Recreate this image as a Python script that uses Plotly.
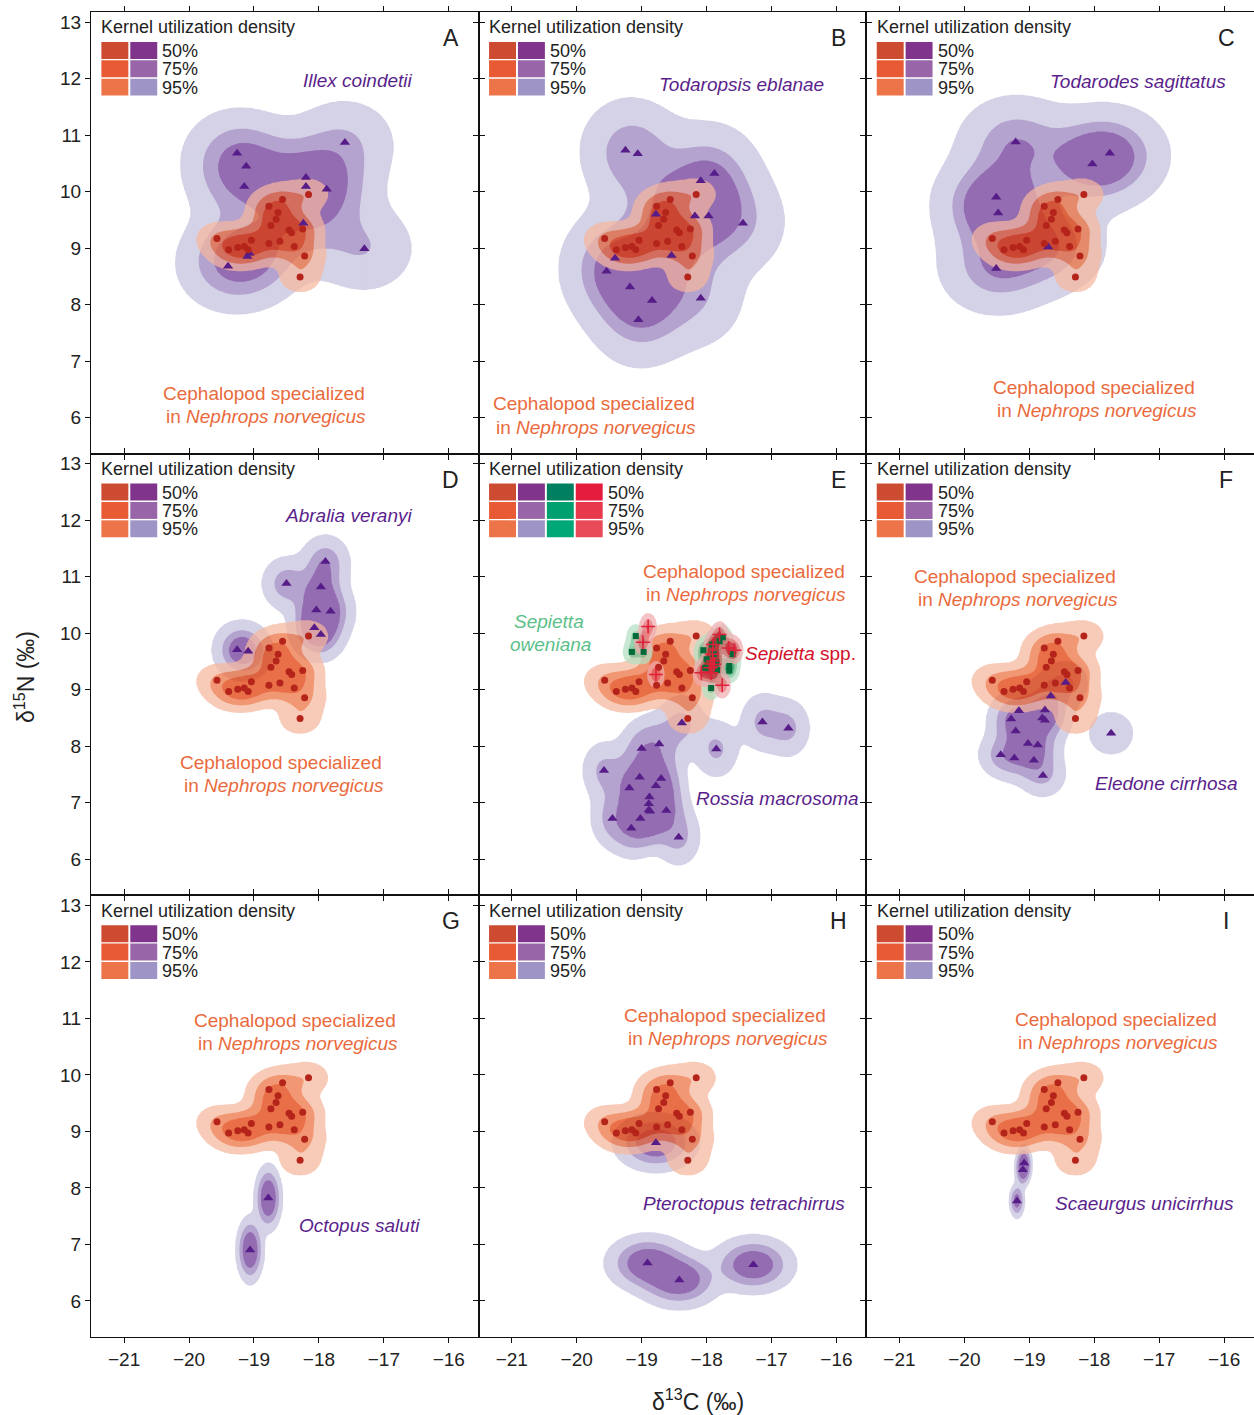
import numpy as np
import plotly.graph_objects as go
from plotly.subplots import make_subplots

# ---------------- data ----------------
neph_x = [-19.57, -19.39, -19.25, -19.15, -19.09, -19.04, -18.77, -18.60, -18.74, -18.66,
          -18.63, -18.77, -18.56, -18.46, -18.42, -18.25, -18.38, -18.22, -18.16, -18.29]
neph_y = [9.17, 8.97, 9.01, 9.03, 8.97, 9.14, 9.08, 9.12, 9.40, 9.51,
          9.63, 9.74, 9.86, 9.32, 9.27, 9.34, 9.03, 8.86, 9.95, 8.49]

illex_x = [-19.26, -19.12, -19.15, -18.20, -18.20, -17.88, -17.60, -18.24, -19.07, -19.10, -19.40, -17.30]
illex_y = [10.68, 10.45, 10.09, 10.25, 10.09, 10.04, 10.87, 9.44, 8.91, 8.85, 8.68, 8.99]

todaropsis_x = [-19.25, -19.06, -17.88, -18.09, -17.44, -18.78, -18.18, -17.97, -19.41, -19.54,
                -18.54, -19.18, -18.84, -18.09, -19.05]
todaropsis_y = [10.73, 10.67, 10.32, 10.19, 9.44, 9.60, 9.57, 9.57, 8.82, 8.59,
                8.87, 8.31, 8.07, 8.11, 7.73]

todarodes_x = [-19.21, -17.76, -18.03, -19.51, -19.48, -18.71, -19.51]
todarodes_y = [10.88, 10.68, 10.49, 9.90, 9.62, 9.02, 8.64]

abralia_x = [-17.90, -18.50, -17.97, -18.04, -17.82, -18.07, -17.97, -19.26, -19.09]
abralia_y = [11.27, 10.88, 10.82, 10.41, 10.39, 10.10, 9.98, 9.71, 9.68]

rossia_x = [-18.38, -17.14, -16.74, -17.85, -19.00, -18.73, -19.58, -19.03, -18.70, -19.19,
            -18.78, -18.88, -18.89, -18.89, -18.87, -18.62, -19.45, -19.02, -19.16, -18.43]
rossia_y = [8.41, 8.43, 8.32, 7.95, 7.96, 8.04, 7.57, 7.45, 7.43, 7.26,
            7.30, 7.10, 6.98, 6.87, 6.85, 6.86, 6.72, 6.72, 6.55, 6.39]

oweniana_x = [-19.09, -19.15, -18.97, -18.05, -17.92, -17.80, -17.75, -17.89, -18.00, -17.85,
              -18.02, -17.84, -17.65, -17.65, -17.60, -17.93]
oweniana_y = [9.95, 9.67, 9.67, 9.70, 9.80, 9.86, 9.93, 9.63, 9.54, 9.48,
              9.39, 9.35, 9.42, 9.34, 9.63, 9.03]

sepietta_x = [-18.90, -18.98, -18.78, -17.80, -17.66, -17.57, -17.91, -17.90, -17.94, -18.08,
              -17.93, -17.76, -17.90, -17.88]
sepietta_y = [10.12, 9.84, 9.27, 9.98, 9.74, 9.70, 9.63, 9.51, 9.39, 9.30,
              9.30, 9.08, 9.80, 9.45]

eledone_x = [-18.44, -18.67, -19.16, -18.76, -19.28, -18.80, -18.76, -19.21, -19.02, -18.87,
             -19.44, -19.23, -18.93, -18.79, -17.74]
eledone_y = [9.13, 8.89, 8.63, 8.64, 8.48, 8.50, 8.46, 8.27, 8.05, 8.02,
             7.85, 7.79, 7.75, 7.48, 8.23]

octopus_x = [-18.78, -19.06]
octopus_y = [7.82, 6.90]

pteroctopus_x = [-18.78, -18.91, -18.42, -17.28]
pteroctopus_y = [8.80, 6.67, 6.37, 6.64]

scaeurgus_x = [-19.08, -19.10, -19.19]
scaeurgus_y = [8.44, 8.32, 7.77]

x_ticks = [-21, -20, -19, -18, -17, -16]
y_ticks = [6, 7, 8, 9, 10, 11, 12, 13]
levels_pct = ["50%", "75%", "95%"]

# ---------------- styles ----------------
X_RANGE = [-21.51, -15.54]
Y_RANGE = [5.36, 13.18]
FONT = "Liberation Sans, Arial, sans-serif"

def comp(target, op):
    c = [(t - (1 - op) * 255) / op for t in target]
    c = [int(max(0, min(255, round(v)))) for v in c]
    return "rgb(%d,%d,%d)" % tuple(c)

PURPLE_OP = 0.75
RED_OP = 0.72
purple_fill = [comp(t, PURPLE_OP) for t in [(148, 108, 178), (180, 162, 207), (213, 210, 231)]]
red_fill = [comp(t, RED_OP) for t in [(233, 112, 62), (241, 152, 115), (248, 204, 185)]]
green_fill = [comp(t, RED_OP) for t in [(90, 180, 130), (150, 210, 175), (200, 232, 212)]]
pink_fill = [comp(t, RED_OP) for t in [(222, 80, 95), (236, 145, 150), (244, 195, 198)]]

leg_red = ["#cd4b30", "#e85a34", "#ec7448"]
leg_purple = ["#80348c", "#9866a8", "#9e94c6"]
leg_green = ["#008060", "#00a070", "#00a878"]
leg_pink = ["#e41c3e", "#e8384c", "#e84a58"]

PURPLE_TXT = "#5b1f8c"
ORANGE_TXT = "#ea6a3c"


def ud_levels(px, py, hx, hy, step=0.025):
    px = np.asarray(px, float)
    py = np.asarray(py, float)
    gx = np.arange(px.min() - 4 * hx, px.max() + 4 * hx + step, step)
    gy = np.arange(py.min() - 4 * hy, py.max() + 4 * hy + step, step)
    X, Y = np.meshgrid(gx, gy)
    d = np.zeros_like(X)
    for a, b in zip(px, py):
        d += np.exp(-0.5 * (((X - a) / hx) ** 2 + ((Y - b) / hy) ** 2))
    flat = np.sort(d.ravel())[::-1]
    cum = np.cumsum(flat)
    cum /= cum[-1]
    t50, t75, t95 = [flat[np.searchsorted(cum, p)] for p in (0.5, 0.75, 0.95)]
    z = np.interp(d, [0, t95, t75, t50, flat[0] * 1.0001], [0, 1, 2, 3, 4])
    return np.round(gx, 3).tolist(), np.round(gy, 3).tolist(), np.round(z, 3).tolist()


def contour(px, py, hx, hy, fills, op):
    gx, gy, z = ud_levels(px, py, hx, hy)
    c50, c75, c95 = fills
    cs = [[0, "rgba(255,255,255,0)"], [0.25, "rgba(255,255,255,0)"],
          [0.25, c95], [0.5, c95], [0.5, c75], [0.75, c75], [0.75, c50], [1, c50]]
    return go.Contour(x=gx, y=gy, z=z, colorscale=cs, showscale=False,
                      contours=dict(start=1, end=3, size=1, coloring="fill", showlines=False),
                      line=dict(width=0, smoothing=1.0), opacity=op, hoverinfo="skip",
                      zmin=0.5, zmax=3.5)


def pts(px, py, symbol, size, color, line=None):
    m = dict(symbol=symbol, size=size, color=color)
    m["line"] = line if line else dict(width=0)
    return go.Scatter(x=px, y=py, mode="markers", marker=m, hoverinfo="skip")


fig = make_subplots(rows=3, cols=3, shared_xaxes=True, shared_yaxes=True,
                    horizontal_spacing=0, vertical_spacing=0)

NEPH_H = (0.21, 0.19)
panels = [
    ("A", illex_x, illex_y, (0.45, 0.45), "<i>Illex coindetii</i>", (-17.40, 11.97), (-18.85, 6.42)),
    ("B", todaropsis_x, todaropsis_y, (0.42, 0.52), "<i>Todaropsis eblanae</i>", (-17.46, 11.90), (-19.74, 6.24)),
    ("C", todarodes_x, todarodes_y, (0.48, 0.45), "<i>Todarodes sagittatus</i>", (-17.32, 11.95), (-18.00, 6.53)),
    ("D", abralia_x, abralia_y, (0.2, 0.25), "<i>Abralia veranyi</i>", (-17.55, 12.08), (-18.58, 7.72)),
    ("E", rossia_x, rossia_y, (0.2, 0.3), "<i>Rossia macrosoma</i>", (-16.91, 7.08), (-17.43, 11.10)),
    ("F", eledone_x, eledone_y, (0.2, 0.22), "<i>Eledone cirrhosa</i>", (-16.88, 7.34), (-19.22, 11.01)),
    ("G", octopus_x, octopus_y, (0.1, 0.27), "<i>Octopus saluti</i>", (-17.38, 7.33), (-18.37, 10.96)),
    ("H", pteroctopus_x, pteroctopus_y, (0.3, 0.24), "<i>Pteroctopus tetrachirrus</i>", (-17.43, 7.72), (-17.71, 11.05)),
    ("I", scaeurgus_x, scaeurgus_y, (0.06, 0.15), "<i>Scaeurgus unicirrhus</i>", (-17.22, 7.73), (-17.67, 10.98)),
]

annotations = []
shapes = []
TXT = 19

for i, (letter, sx, sy, (hx, hy), name, npos, tpos) in enumerate(panels):
    r, c = i // 3 + 1, i % 3 + 1
    xr = "x" if i == 0 else "x%d" % (i + 1)
    yr = "y" if i == 0 else "y%d" % (i + 1)
    fig.add_trace(contour(sx, sy, hx, hy, purple_fill, PURPLE_OP), row=r, col=c)
    fig.add_trace(contour(neph_x, neph_y, NEPH_H[0], NEPH_H[1], red_fill, RED_OP), row=r, col=c)
    if letter == "E":
        fig.add_trace(contour(oweniana_x, oweniana_y, 0.08, 0.12, green_fill, RED_OP), row=r, col=c)
        fig.add_trace(contour(sepietta_x, sepietta_y, 0.07, 0.12, pink_fill, RED_OP), row=r, col=c)
    fig.add_trace(pts(sx, sy, "triangle-up", 9, "#561c88"), row=r, col=c)
    fig.add_trace(pts(neph_x, neph_y, "circle", 7, "#b5241a"), row=r, col=c)
    if letter == "E":
        fig.add_trace(pts(oweniana_x, oweniana_y, "square", 6, "#006a3a"), row=r, col=c)
        fig.add_trace(pts(sepietta_x, sepietta_y, "cross-thin", 10, "#e0203a",
                          line=dict(width=1.5, color="#e0203a")), row=r, col=c)

    # legend block
    annotations.append(dict(x=-21.38, y=12.91, xref=xr, yref=yr, text="Kernel utilization density",
                            showarrow=False, xanchor="left", yanchor="middle",
                            font=dict(size=18, color="#222", family=FONT)))
    cols_leg = [leg_red, leg_purple] + ([leg_green, leg_pink] if letter == "E" else [])
    w = 0.415
    for k, col in enumerate(cols_leg):
        x0 = -21.35 + k * (w + 0.03)
        for j in range(3):
            y1 = 12.65 - j * 0.325
            shapes.append(dict(type="rect", xref=xr, yref=yr, x0=x0, x1=x0 + w,
                               y0=y1 - 0.30, y1=y1, fillcolor=col[j], line=dict(width=0)))
    tx = -21.35 + len(cols_leg) * (w + 0.03) + 0.02
    for j, lab in enumerate(levels_pct):
        annotations.append(dict(x=tx, y=12.49 - j * 0.325, xref=xr, yref=yr, text=lab,
                                showarrow=False, xanchor="left", yanchor="middle",
                                font=dict(size=18, color="#222", family=FONT)))
    annotations.append(dict(x=-15.97, y=12.72, xref=xr, yref=yr, text=letter, showarrow=False,
                            xanchor="center", yanchor="middle",
                            font=dict(size=23, color="#222", family=FONT)))
    annotations.append(dict(x=npos[0], y=npos[1], xref=xr, yref=yr, text=name, showarrow=False,
                            xanchor="center", yanchor="middle",
                            font=dict(size=TXT, color=PURPLE_TXT, family=FONT)))
    annotations.append(dict(x=tpos[0], y=tpos[1], xref=xr, yref=yr, text="Cephalopod specialized",
                            showarrow=False, xanchor="center", yanchor="middle",
                            font=dict(size=TXT, color=ORANGE_TXT, family=FONT)))
    annotations.append(dict(x=tpos[0] + 0.04, y=tpos[1] - 0.41, xref=xr, yref=yr,
                            text="in <i>Nephrops norvegicus</i>",
                            showarrow=False, xanchor="center", yanchor="middle",
                            font=dict(size=TXT, color=ORANGE_TXT, family=FONT)))
    if letter == "E":
        annotations.append(dict(x=-16.55, y=9.65, xref=xr, yref=yr, text="<i>Sepietta</i> spp.",
                                showarrow=False, xanchor="center", yanchor="middle",
                                font=dict(size=TXT, color="#d0102a", family=FONT)))
        annotations.append(dict(x=-20.43, y=10.20, xref=xr, yref=yr, text="<i>Sepietta</i>",
                                showarrow=False, xanchor="center", yanchor="middle",
                                font=dict(size=TXT, color="#5cbf8a", family=FONT)))
        annotations.append(dict(x=-20.40, y=9.80, xref=xr, yref=yr, text="<i>oweniana</i>",
                                showarrow=False, xanchor="center", yanchor="middle",
                                font=dict(size=TXT, color="#5cbf8a", family=FONT)))

annotations.append(dict(x=0.522, y=-0.0475, xref="paper", yref="paper",
                        text="δ<sup>13</sup>C (‰)", showarrow=False, xanchor="center", yanchor="middle",
                        font=dict(size=23, color="#222", family=FONT)))
annotations.append(dict(x=-0.0568, y=0.498, xref="paper", yref="paper",
                        text="δ<sup>15</sup>N (‰)", showarrow=False, textangle=-90,
                        xanchor="center", yanchor="middle",
                        font=dict(size=23, color="#222", family=FONT)))

fig.update_xaxes(range=X_RANGE, tickvals=x_ticks, ticks="outside", ticklen=5, tickwidth=1,
                 tickcolor="#111", showline=True, linecolor="#111", linewidth=1, mirror="ticks",
                 showgrid=False, zeroline=False, automargin=False,
                 tickfont=dict(size=19, color="#222", family=FONT))
fig.update_yaxes(range=Y_RANGE, tickvals=y_ticks, ticks="outside", ticklen=5, tickwidth=1,
                 tickcolor="#111", showline=True, linecolor="#111", linewidth=1, mirror="ticks",
                 showgrid=False, zeroline=False, automargin=False,
                 tickfont=dict(size=19, color="#222", family=FONT))

fig.update_layout(width=1254, height=1415, margin=dict(l=91, r=0, t=12, b=78, autoexpand=False),
                  plot_bgcolor="white", paper_bgcolor="white", showlegend=False,
                  annotations=annotations, shapes=shapes, font=dict(family=FONT))

fig.write_html("out.html", config={"displayModeBar": False},
               post_script="document.body.style.margin='0px';document.body.style.overflow='hidden';")
